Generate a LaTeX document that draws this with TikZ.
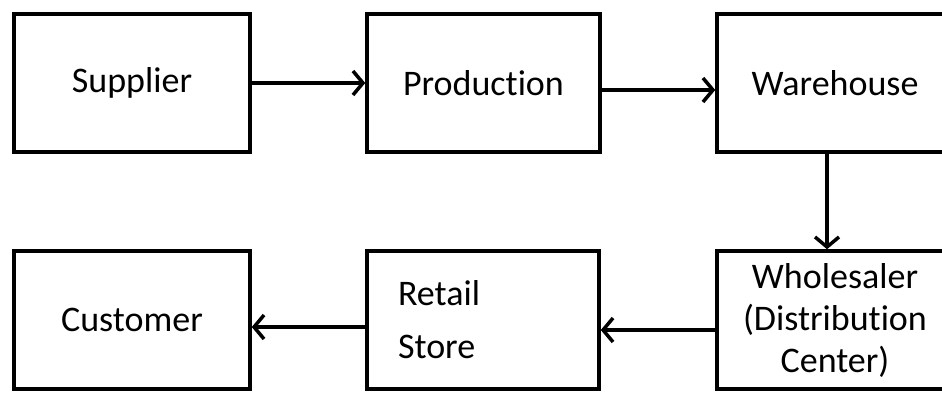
\documentclass[tikz,border=0pt]{standalone}
\usepackage{fontspec}
\setmainfont{Carlito}[RawFeature=-liga]
\usepackage{tikz}
\usetikzlibrary{positioning, calc, arrows.meta}
\tikzset{
  scbox/.style={draw, line width=3.5pt, rectangle, minimum width=236pt, minimum height=138pt,
    font=\fontsize{36}{42}\selectfont, align=center},
  scarrow/.style={line width=3.5pt, -{Straight Barb[length=10pt,width=24pt]}}
}

\begin{document}
\begin{tikzpicture}[x=1pt,y=-1pt]
      \useasboundingbox (0,0) rectangle (942,394);

      \node[scbox] (SC1) at (132,83) {Supplier};
      \node[scbox, minimum width=233pt] (SC2) at (483.5,83) {Production};
      \node[scbox] (SC3) at (835,83) {Warehouse};

      \node[scbox] (SC4) at (835,320) {Wholesaler\\(Distribution\\Center)};
      \node[scbox, minimum width=232pt, text width=170pt, inner xsep=31pt, align=left,
        font=\fontsize{36}{53}\selectfont] (SC5) at (483,320) {Retail\\Store};
      \node[scbox] (SC6) at (132,320) {Customer};

      \draw[scarrow] (node cs:name=SC1) -- (node cs:name=SC2);
      \draw[scarrow,transform canvas={yshift=-7pt}] (node cs:name=SC2) -- (node cs:name=SC3);
      \draw[scarrow,transform canvas={xshift=-8pt}] (node cs:name=SC3) -- (node cs:name=SC4);
      \draw[scarrow,transform canvas={yshift=-10pt}] (node cs:name=SC4) -- (node cs:name=SC5);
      \draw[scarrow,transform canvas={yshift=-7pt}] (node cs:name=SC5) -- (node cs:name=SC6);
    \end{tikzpicture}
\end{document}
